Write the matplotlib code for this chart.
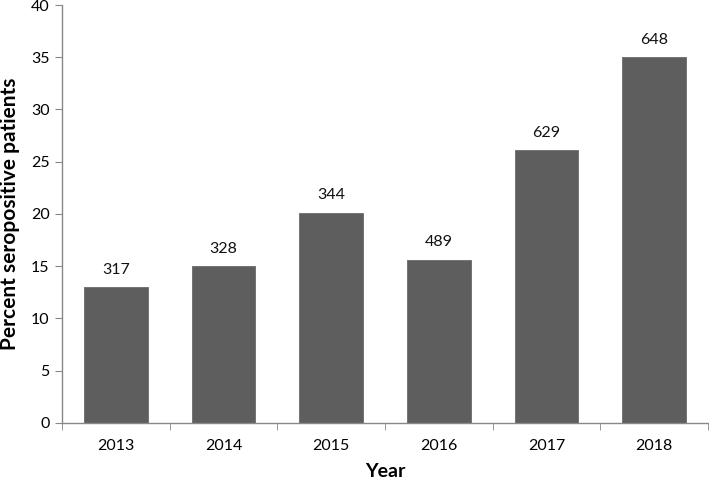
import numpy as np
import matplotlib
matplotlib.use('Agg')
import matplotlib.pyplot as plt

years = ['2013', '2014', '2015', '2016', '2017', '2018']
percent = [13.0, 15.0, 20.1, 15.6, 26.1, 35.0]
n_patients = ['317', '328', '344', '489', '629', '648']

plt.rcParams['font.family'] = ['Lato', 'DejaVu Sans']

fig = plt.figure(figsize=(7.09, 4.79), dpi=100)
ax = fig.add_axes([0.0875, 0.1175, 0.911, 0.872])

x = np.arange(len(years))
bars = ax.bar(x, percent, width=0.59, color='#5e5e5e', edgecolor='#6a6a6a', linewidth=0.6)

# sample sizes above each bar
for b, lab in zip(bars, n_patients):
    ax.text(b.get_x() + b.get_width() / 2, b.get_height() + 1.0, lab,
            ha='center', va='bottom', fontsize=11.5, color='#111111')

ax.set_xlim(-0.5, len(years) - 0.5)
ax.set_ylim(0, 40)
ax.set_yticks(np.arange(0, 41, 5))
ax.set_xticks(x)
ax.set_xticklabels(years, fontsize=11.5)
ax.set_xticks(np.arange(-0.5, len(years), 1.0), minor=True)
ax.tick_params(axis='x', which='major', length=0, pad=12)
ax.tick_params(axis='x', which='minor', length=5, color='#888888', direction='out')
ax.tick_params(axis='y', length=5, color='#888888', labelsize=11.5, pad=4)

for s in ['top', 'right']:
    ax.spines[s].set_visible(False)
for s in ['left', 'bottom']:
    ax.spines[s].set_color('#888888')
    ax.spines[s].set_linewidth(1.0)

ax.set_ylabel('Percent seropositive patients', fontsize=15, fontweight='bold', labelpad=8)
ax.set_xlabel('Year', fontsize=14, fontweight='bold', labelpad=7)

fig.savefig('out.png', dpi=100)
